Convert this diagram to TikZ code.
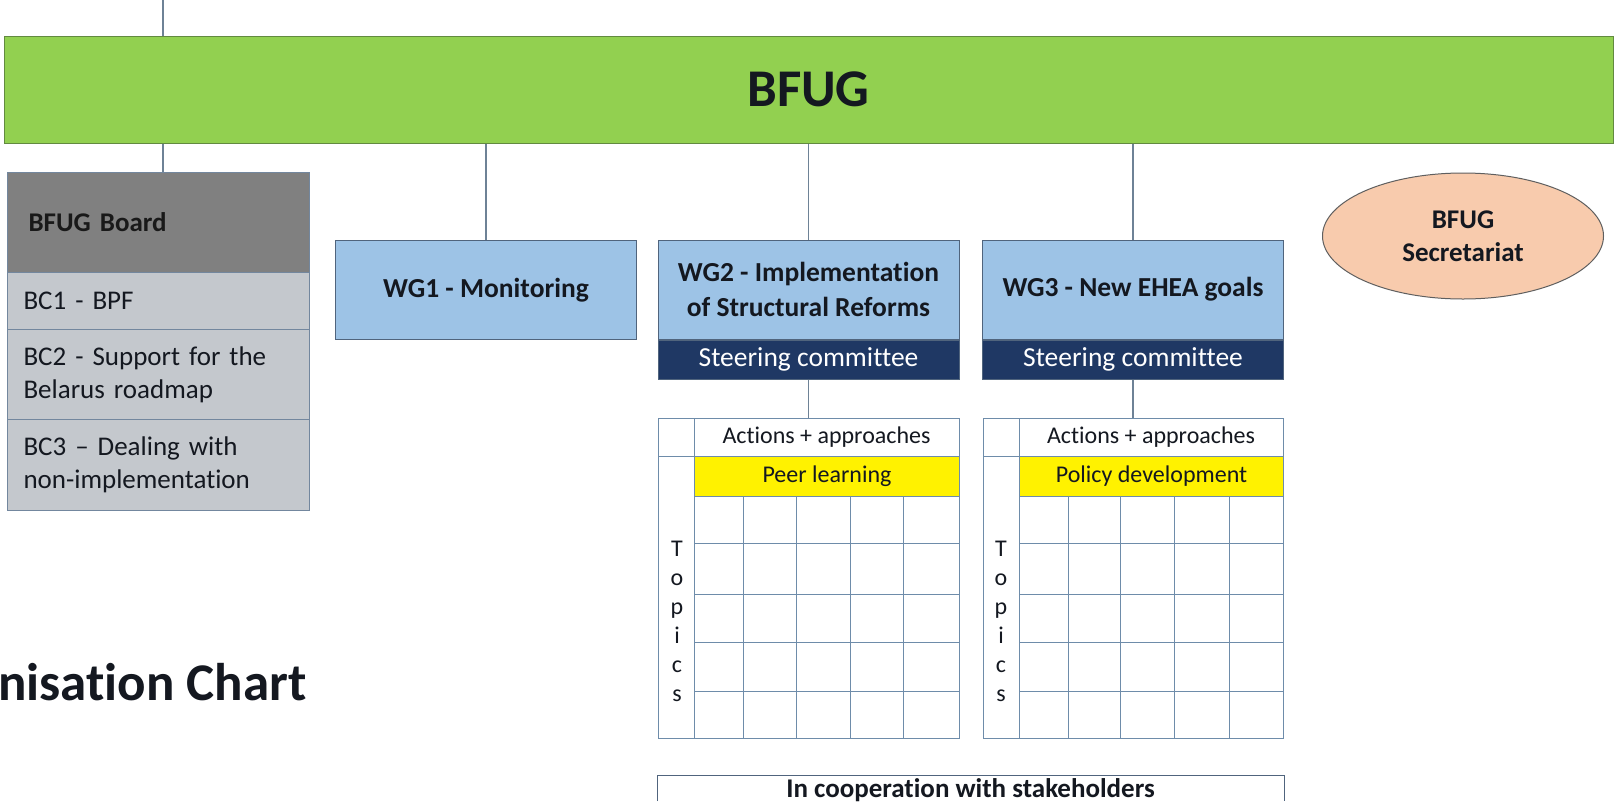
\documentclass[tikz,border=0pt]{standalone}
\usepackage{fontspec}
\setmainfont{Carlito}[Ligatures=CommonOff]
\usetikzlibrary{shapes.geometric}
\definecolor{bfuggreen}{RGB}{146,208,80}
\definecolor{greenborder}{RGB}{98,138,64}
\definecolor{wgfill}{RGB}{157,195,230}
\definecolor{wgborder}{RGB}{80,100,125}
\definecolor{scfill}{RGB}{31,56,100}
\definecolor{boardhead}{RGB}{128,128,128}
\definecolor{boardrow}{RGB}{196,200,205}
\definecolor{boardborder}{RGB}{115,135,158}
\definecolor{conncol}{RGB}{110,130,150}
\definecolor{gridcol}{RGB}{110,140,170}
\definecolor{peach}{RGB}{248,203,173}
\definecolor{ellborder}{RGB}{95,95,95}
\definecolor{txtdark}{RGB}{20,24,32}
\newcommand\fsz[2]{\fontsize{#1}{#2}\selectfont}
\begin{document}
\begin{tikzpicture}[x=1pt,y=-1pt,
  conn/.style={draw=conncol,line width=1.2pt},
  boardcell/.style={draw=boardborder,line width=1pt,fill=boardrow,anchor=north west,
    text width=270pt,inner xsep=16pt,inner ysep=0pt,align=left,text=txtdark,
    font=\fsz{27}{33}},
  wgbox/.style={draw=wgborder,line width=1pt,fill=wgfill,minimum width=301pt,
    minimum height=99pt,inner sep=0pt,align=center,text=txtdark,
    font=\bfseries\fsz{27.5}{35}},
  scbox/.style={draw=wgborder,line width=1pt,fill=scfill,minimum width=301pt,
    minimum height=39pt,inner sep=0pt,text=white,font=\fsz{27.5}{33},anchor=north},
  gridbox/.style={draw=gridcol,line width=1pt,minimum width=301pt,minimum height=320pt,
    inner sep=0pt,anchor=north west},
  gridline/.style={draw=gridcol,line width=1pt},
  gridtext/.style={inner sep=0pt,text=txtdark,font=\fsz{24}{29}},
  yellowband/.style={draw=gridcol,line width=1pt,fill=yellow,anchor=north west,
    minimum width=265pt,minimum height=40pt,inner sep=0pt,text=txtdark,font=\fsz{24}{29}},
]
\useasboundingbox (0,0) rectangle (1614,801);
\fill[white] (0,0) rectangle (1614,801);

% top
\coordinate (top) at (163,0);
\node[draw=greenborder,line width=1pt,fill=bfuggreen,minimum width=1609pt,minimum height=107pt,
  inner sep=0pt,font=\bfseries\fsz{53}{60},text=txtdark] (bfug) at (808.5,89.5) {BFUG};
\draw[conn] (top) -- (top |- bfug.north);

% board
\node[boardcell,fill=boardhead,minimum height=100pt,text width=260pt,inner xsep=21pt,
  font=\bfseries\fsz{27}{33},text=black!90] (board) at (7,172) {BFUG Board};
\node[boardcell,minimum height=57pt] (bc1) at (7,272) {BC1 - BPF};
\node[boardcell,minimum height=90pt] (bc2) at (7,329) {BC2 - Support for the\\Belarus roadmap};
\node[boardcell,minimum height=91pt] (bc3) at (7,419) {BC3 -- Dealing with\\non-implementation};
\draw[conn] (board.north -| top) -- (top |- bfug.south);

% working groups
\node[wgbox] (wg1) at (486,290) {WG1 - Monitoring};
\node[wgbox] (wg2) at (808.5,289.5) {WG2 - Implementation\\of Structural Reforms};
\node[wgbox] (wg3) at (1133,289.5) {WG3 - New EHEA goals};
\node[scbox] (sc2) at (wg2.south) {Steering committee};
\node[scbox] (sc3) at (wg3.south) {Steering committee};
\draw[conn] (wg1.north) -- (wg1.north |- bfug.south);
\draw[conn] (wg2.north) -- (wg2.north |- bfug.south);
\draw[conn] (wg3.north) -- (wg3.north |- bfug.south);

% secretariat
\node[ellipse,draw=ellborder,line width=1pt,fill=peach,minimum width=281pt,minimum height=126pt,
  inner sep=0pt,align=center,text=txtdark,font=\bfseries\fsz{27}{33}] (sec) at (1463,236)
  {BFUG\\Secretariat};

% grid WG2
\node[gridbox] (grid2) at (658,418) {};
\draw[conn] (sc2.south) -- (grid2.north -| sc2.south);
\draw[gridline] (658,456) -- (959,456);
\draw[gridline] (694,418) -- (694,738);
\node[gridtext] (act2) at (826.5,437) {Actions + approaches};
\node[yellowband] (pl2) at (694,456) {Peer learning};
\foreach \yy in {543,594,642,691} \draw[gridline] (694,\yy) -- (959,\yy);
\foreach \xx in {743,796,850,903} \draw[gridline] (\xx,496) -- (\xx,738);
\node[gridtext,align=center] (top2) at (677,621) {T\\o\\p\\i\\c\\s};

% grid WG3
\node[gridbox,minimum width=300pt] (grid3) at (983,418) {};
\draw[conn] (sc3.south) -- (grid3.north -| sc3.south);
\draw[gridline] (983,456) -- (1283,456);
\draw[gridline] (1019,418) -- (1019,738);
\node[gridtext] (act3) at (1151,437) {Actions + approaches};
\node[yellowband,minimum width=264pt] (pd3) at (1019,456) {Policy development};
\foreach \yy in {543,594,642,691} \draw[gridline] (1019,\yy) -- (1283,\yy);
\foreach \xx in {1068,1120,1174,1229} \draw[gridline] (\xx,496) -- (\xx,738);
\node[gridtext,align=center] (top3) at (1001,621) {T\\o\\p\\i\\c\\s};

% cooperation box (cut off at bottom)
\draw[draw=wgborder,line width=1pt] (657,801) -- (657,775) -- (1284,775) -- (1284,801);
\node[inner sep=0pt,anchor=base,font=\bfseries\fsz{27}{30},text=txtdark] (coop) at (970.5,797)
  {In cooperation with stakeholders};

% chart title (cut off at left)
\node[inner sep=0pt,anchor=base west,font=\bfseries\fsz{53}{60},text=txtdark] (title) at (-2,700)
  {nisation Chart};
\end{tikzpicture}
\end{document}
